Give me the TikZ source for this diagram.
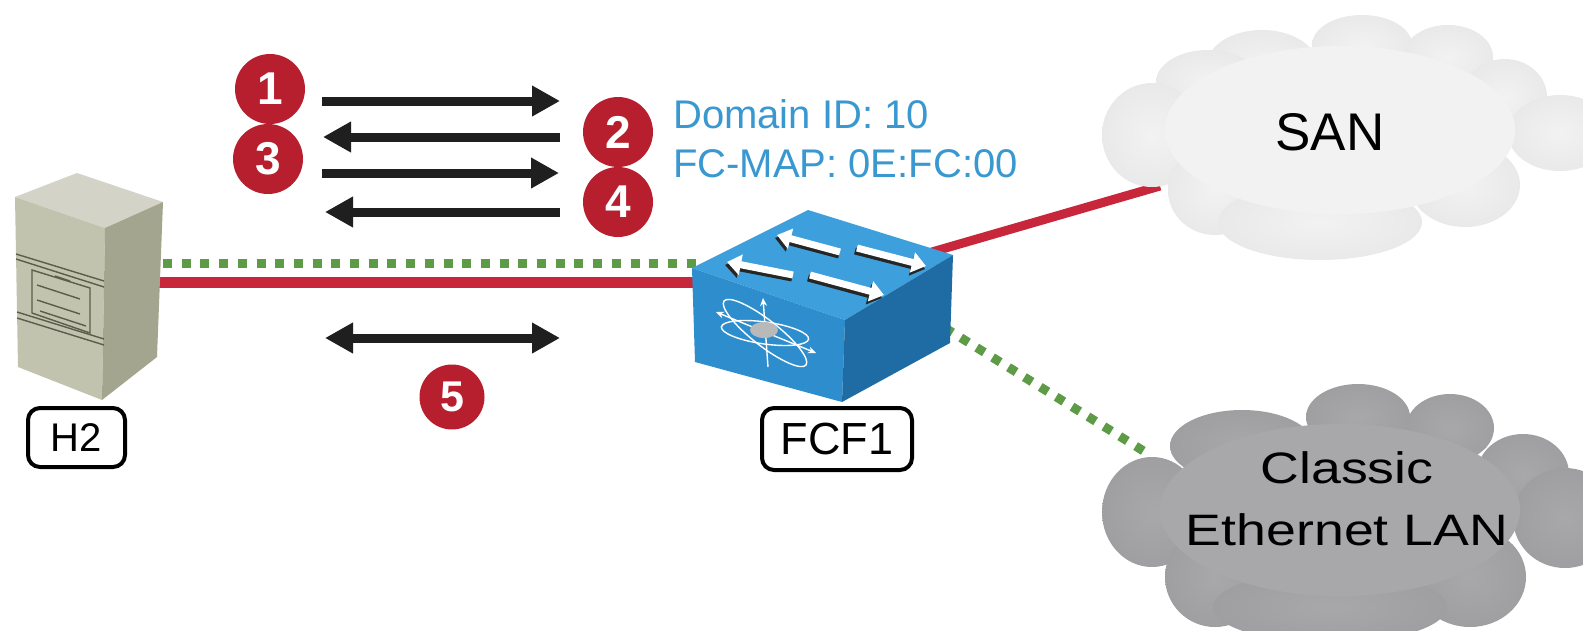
\documentclass[tikz,border=0pt]{standalone}
\usepackage{fontspec}
\setmainfont{Liberation Sans}
\usetikzlibrary{arrows.meta}

\definecolor{fcred}{HTML}{C8263A}
\definecolor{fcgreen}{HTML}{5E9B46}
\definecolor{badge}{HTML}{B71F2E}
\definecolor{infoblue}{HTML}{3A98D0}
\definecolor{swtop}{HTML}{3D9FDC}
\definecolor{swfront}{HTML}{2E8ECD}
\definecolor{swside}{HTML}{1F6BA3}
\definecolor{srvtop}{HTML}{D3D4C7}
\definecolor{srvfront}{HTML}{C2C3AF}
\definecolor{srvside}{HTML}{A4A58F}
\definecolor{srvline}{HTML}{5A5C4C}
\definecolor{sanlite}{HTML}{F2F2F2}
\definecolor{sanmid}{HTML}{E8E8E8}
\definecolor{sanedge}{HTML}{D0D0D0}
\definecolor{lanlite}{HTML}{A8A8AA}
\definecolor{lanmid}{HTML}{9E9EA0}
\definecolor{lanedge}{HTML}{8C8C8E}

% soft bumps of the clouds, and their lighter core
\pgfdeclareradialshading{sanblob}{\pgfpointorigin}{color(0bp)=(sanlite); color(28bp)=(sanmid); color(50bp)=(sanedge)}
\pgfdeclareradialshading{sancore}{\pgfpointorigin}{color(0bp)=(sanlite); color(36bp)=(sanlite); color(50bp)=(sanmid)}
\pgfdeclareradialshading{lanblob}{\pgfpointorigin}{color(0bp)=(lanlite); color(28bp)=(lanmid); color(50bp)=(lanedge)}
\pgfdeclareradialshading{lancore}{\pgfpointorigin}{color(0bp)=(lanlite); color(36bp)=(lanlite); color(50bp)=(lanmid)}

\tikzset{
  msg/.style={line width=9pt, draw=black!88, -{Triangle[length=28pt,width=29pt]}},
  msgboth/.style={line width=9pt, draw=black!88, {Triangle[length=28pt,width=29pt]}-{Triangle[length=28pt,width=29pt]}},
  badgenode/.style={circle, fill=badge, text=white, inner sep=0pt, minimum size=70pt,
    font=\fontsize{46}{46}\selectfont\bfseries},
  devlabel/.style={draw=black, line width=4pt, rounded corners=12pt, fill=white, inner sep=0pt},
  fclink/.style={draw=fcred, line width=11pt},
  ethlink/.style={draw=fcgreen, line width=9pt, dash pattern=on 9pt off 9.7pt},
  swarrow/.style={draw=white, line width=7pt, -{Triangle[length=14pt,width=20pt]}},
  swshadow/.style={draw=black!85, line width=7pt, -{Triangle[length=14pt,width=20pt]}},
}

\begin{document}
\begin{tikzpicture}[x=1pt, y=-1pt]
\useasboundingbox (0,0) rectangle (1583,630);
\clip (0,0) rectangle (1583,630);
\fill[white] (0,0) rectangle (1583,630);

% ---- connector end points ----
\coordinate (h2fc)  at (150,282);
\coordinate (swfc)  at (700,282);
\coordinate (h2eth) at (163,263);
\coordinate (sweth) at (700,263);
\coordinate (swsan) at (925,254);
\coordinate (sanin) at (1160,186);
\coordinate (swlan) at (929,318);
\coordinate (lanin) at (1150,455);

% ---- links ----
\draw[fclink] (h2fc) -- (swfc);
\draw[ethlink] (h2eth) -- (sweth);
\draw[draw=fcred, line width=9pt] (swsan) -- (sanin);
\draw[ethlink] (swlan) -- (lanin);

% ---- host H2 (server tower) ----
\fill[srvtop]   (15,197) -- (77,173) -- (163,202) -- (105,228) -- cycle;
\fill[srvfront] (15,197) -- (105,228) -- (102,400) -- (18,367) -- cycle;
\fill[srvside]  (105,228) -- (163,202) -- (157,357) -- (102,400) -- cycle;
\begin{scope}[draw=srvline, line width=1.4pt]
  \draw (16,254) -- (104,281);
  \draw (16,259) -- (104,287);
  \draw (17,312) -- (104,339);
  \draw (17,318) -- (104,345);
  \draw (32,270) -- (90,288) -- (90,333) -- (32,313) -- cycle;
  \draw (37,285) -- (80,299);
  \draw (37,300) -- (80,314);
  \draw (40,311) -- (86,326);
  \draw (55,276) -- (70,281);
\end{scope}
\node[inner sep=0pt, minimum size=1pt] (h2) at (90,285) {};

% ---- switch FCF1 ----
\fill[swtop]   (692,268) -- (808,210) -- (953,255) -- (845,320) -- cycle;
\fill[swfront] (692,268) -- (845,320) -- (842,402) -- (695,362) -- cycle;
\fill[swside]  (845,320) -- (953,255) -- (950,343) -- (842,402) -- cycle;
% traffic arrows on top face
\draw[swshadow] (792,278) -- (725,265);
\draw[swshadow] (839,255) -- (775,238);
\draw[swshadow] (855,251) -- (925,269);
\draw[swshadow] (808,278) -- (882,298);
\draw[swarrow] (793,275) -- (727,262);
\draw[swarrow] (840,252) -- (777,235);
\draw[swarrow] (857,248) -- (926,266);
\draw[swarrow] (810,275) -- (884,295);
% emblem on the front face
\begin{scope}[draw=white, line width=1.4pt]
  \draw[rotate around={-8:(765,333)}] (765,333) ellipse [x radius=44, y radius=11];
  \draw[rotate around={-38:(765,333)}] (765,333) ellipse [x radius=52, y radius=13];
  \draw[-{Stealth[length=8pt,width=7pt]}] (768,367) -- (763,298);
  \draw[{Stealth[length=8pt,width=7pt]}-{Stealth[length=8pt,width=7pt]}] (716,312) -- (816,353);
\end{scope}
\fill[gray!55] (764,330) ellipse [x radius=14, y radius=8];
\node[inner sep=0pt, minimum size=1pt] (fcf) at (820,310) {};

% ---- SAN cloud ----
\begin{scope}
  \foreach \cx/\cy/\rx/\ry in {1262/65/55/35, 1362/45/50/30, 1448/57/45/32, 1208/82/52/32,
      1505/97/42/38, 1560/133/52/38, 1152/135/50/52, 1215/190/47/45, 1465/185/55/42,
      1320/222/102/38}
    \shade[shading=sanblob] (\cx,\cy) ellipse [x radius=\rx, y radius=\ry];
  \shade[shading=sancore] (1340,130) ellipse [x radius=175, y radius=84];
\end{scope}
\node[anchor=base, inner sep=0pt, font=\fontsize{53}{53}\selectfont] (san) at (1330,150) {SAN};

% ---- Classic Ethernet LAN cloud ----
\begin{scope}
  \foreach \cx/\cy/\rx/\ry in {1242/446/72/36, 1358/417/52/33, 1450/428/44/34, 1523/474/46/40,
      1565/518/52/50, 1152/512/50/55, 1215/577/50/50, 1470/577/56/50,
      1330/607/117/36}
    \shade[shading=lanblob] (\cx,\cy) ellipse [x radius=\rx, y radius=\ry];
  \shade[shading=lancore] (1340,510) ellipse [x radius=180, y radius=86];
\end{scope}
\node[anchor=base, inner sep=0pt, font=\fontsize{44}{44}\selectfont] (lan1) at (1347,483) {\scalebox{1.22}[1]{Classic}};
\node[anchor=base, inner sep=0pt, font=\fontsize{44}{44}\selectfont] (lan2) at (1347,545) {\scalebox{1.22}[1]{Ethernet LAN}};

% ---- device labels ----
\node[devlabel, minimum width=97pt, minimum height=59pt, font=\fontsize{40}{40}\selectfont] (h2lbl) at (76.5,437.5) {H2};
\node[devlabel, minimum width=150pt, minimum height=62pt, font=\fontsize{45}{45}\selectfont] (fcflbl) at (837,439) {FCF1};

% ---- FCF parameters ----
\node[anchor=base west, inner sep=0pt, text=infoblue, font=\fontsize{40}{40}\selectfont] (dom) at (673,128) {Domain ID: 10};
\node[anchor=base west, inner sep=0pt, text=infoblue, font=\fontsize{40}{40}\selectfont] (fcmap) at (673,177) {FC-MAP: 0E:FC:00};

% ---- message exchange ----
\coordinate (m1a) at (322,101);  \coordinate (m1b) at (560,101);
\coordinate (m2a) at (560,137);  \coordinate (m2b) at (323,137);
\coordinate (m3a) at (322,173);  \coordinate (m3b) at (559,173);
\coordinate (m4a) at (560,212);  \coordinate (m4b) at (325,212);
\coordinate (m5a) at (325,338);  \coordinate (m5b) at (560,338);
\draw[msg] (m1a) -- (m1b);
\draw[msg] (m2a) -- (m2b);
\draw[msg] (m3a) -- (m3b);
\draw[msg] (m4a) -- (m4b);
\draw[msgboth] (m5a) -- (m5b);

\node[badgenode] (b1) at (270,89) {1};
\node[badgenode] (b3) at (268,159) {3};
\node[badgenode] (b2) at (618,132) {2};
\node[badgenode] (b4) at (618,202) {4};
\node[badgenode, minimum size=65pt, font=\fontsize{43}{43}\selectfont\bfseries] (b5) at (452,397) {5};
\end{tikzpicture}
\end{document}
